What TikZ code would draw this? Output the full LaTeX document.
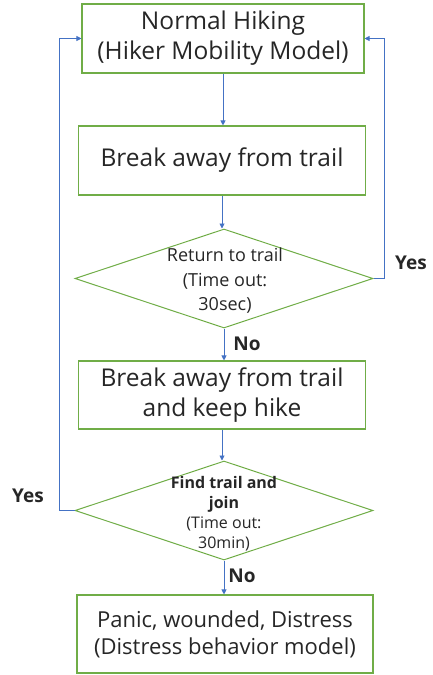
\documentclass[tikz,border=0pt]{standalone}
\usepackage{fontspec}
\setmainfont{Open Sans}
\usetikzlibrary{shapes.geometric}
\usetikzlibrary{arrows.meta}
\definecolor{boxgreen}{HTML}{70AD47}
\definecolor{flowblue}{HTML}{4472C4}
\definecolor{txt}{HTML}{262626}

\begin{document}
\begin{tikzpicture}[x=1pt,y=-1pt,
        box/.style={draw=boxgreen, line width=1.1pt, minimum width=287pt, minimum height=69pt,
            text=txt, align=center, font=\fontsize{24.5}{30}\selectfont},
        decision/.style={diamond, draw=boxgreen, line width=1pt, inner sep=0pt,
            minimum width=298pt, minimum height=99pt},
        dtext/.style={text=txt, align=center, inner sep=0pt},
        flow/.style={draw=flowblue, line width=0.9pt, -{Triangle[length=5pt,width=5pt]}},
        lbl/.style={text=txt, font=\fontsize{19}{22}\selectfont\bfseries}]
    \useasboundingbox (0,0) rectangle (432,675);

    % states and decisions
    \node[box, minimum width=282pt] (hike) at (223,38.5) {Normal Hiking\\(Hiker Mobility Model)};
    \node[box] (brk) at (222,160.5) {Break away from trail};
    \node[decision] (ret) at (224,278.5) {};
    \node[dtext, font=\fontsize{18}{24.5}\selectfont] (ret-txt) at (225,281) {Return to trail\\(Time out:\\30sec)};
    \node[box, minimum height=68pt] (keep) at (222,395) {Break away from trail\\and keep hike};
    \node[decision] (find) at (224,510.5) {};
    \node[dtext, font=\fontsize{16}{20}\selectfont] (find-txt) at (224,514) {\textbf{Find trail and}\\\textbf{join}\\(Time out:\\30min)};
    \node[box, minimum width=296pt, minimum height=78pt, font=\fontsize{22}{27}\selectfont] (panic) at (225,634) {Panic, wounded, Distress\\(Distress behavior model)};

    % flow
    \draw[flow] (hike.south) -- (hike.south |- brk.north);
    \draw[flow] (brk.south) -- (brk.south |- ret.north);
    \draw[flow] (ret.south) -- (ret.south |- keep.north);
    \draw[flow] (keep.south) -- (keep.south |- find.north);
    \draw[flow] (find.south) -- (find.south |- panic.north);
    \draw[flow] (ret.east) -- ++(11,0) |- (hike.east);
    \draw[flow] (find.west) -- ++(-15,0) |- (hike.west);

    % answers
    \node[lbl] (ret-yes) at (411,262.5) {Yes};
    \node[lbl] (ret-no) at (247,343.5) {No};
    \node[lbl] (find-yes) at (28,495.5) {Yes};
    \node[lbl] (find-no) at (242,575.5) {No};
\end{tikzpicture}
\end{document}
